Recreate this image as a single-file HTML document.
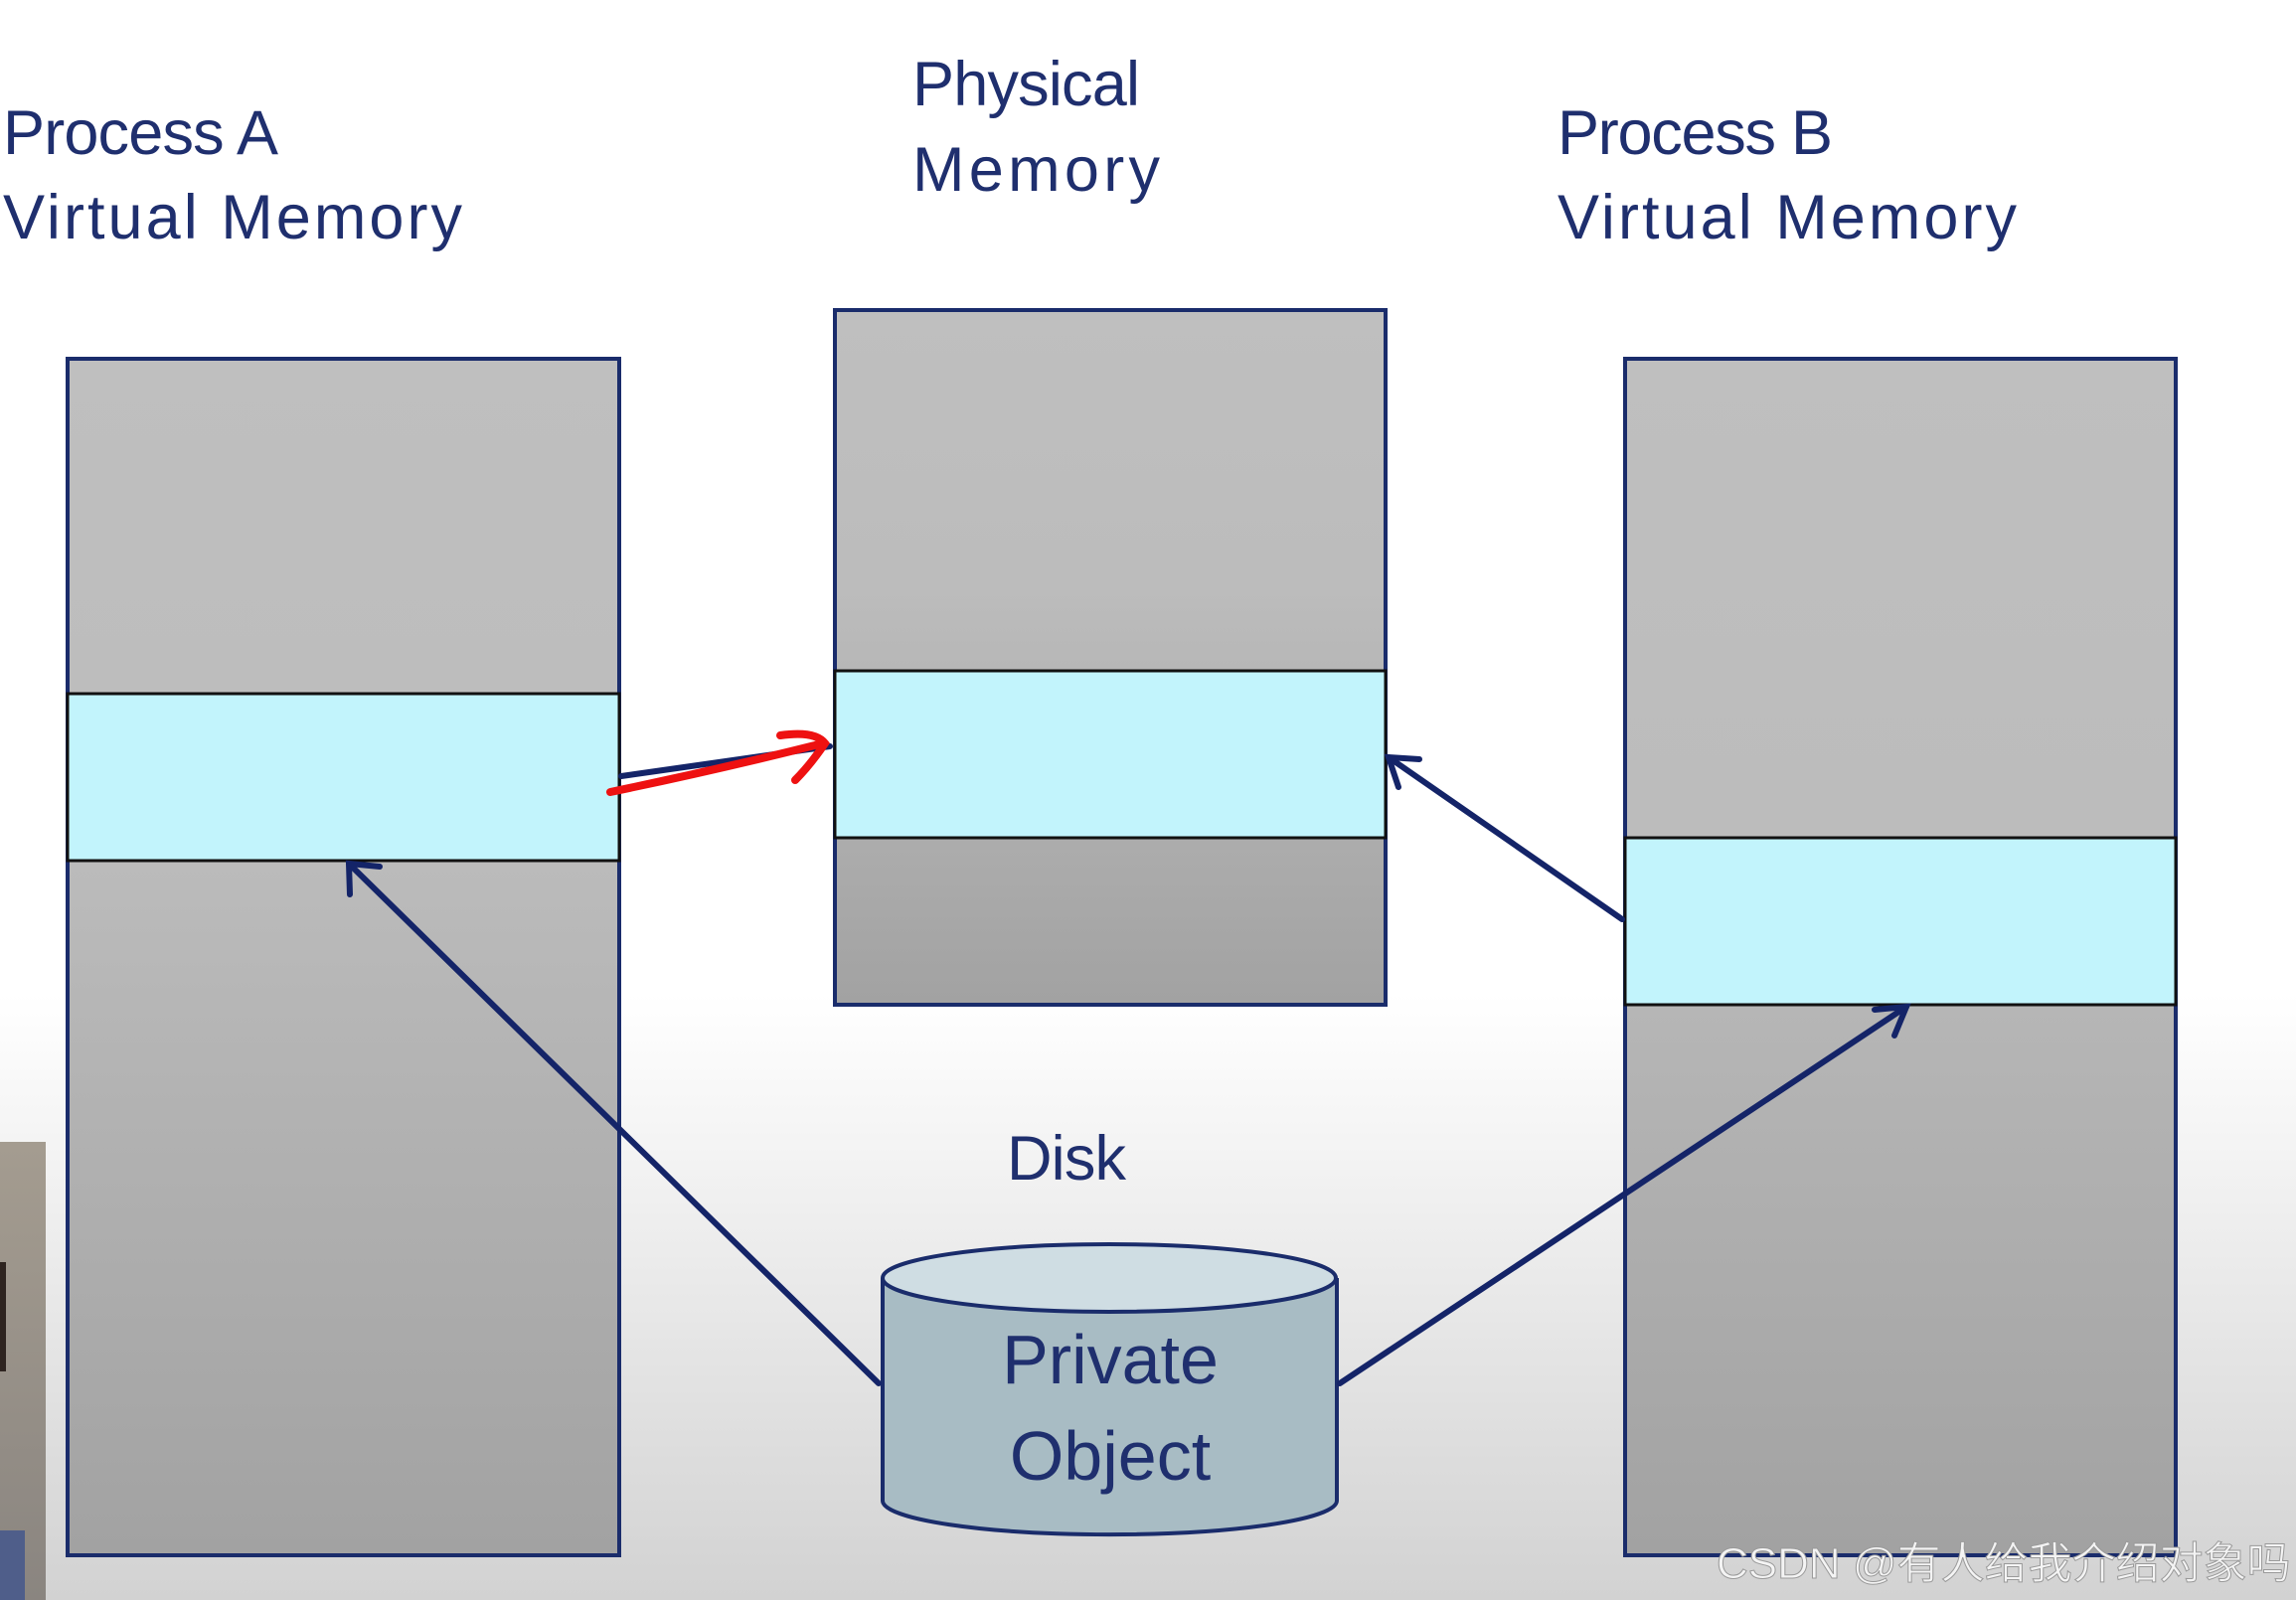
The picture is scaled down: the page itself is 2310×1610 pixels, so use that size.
<!DOCTYPE html>
<html><head><meta charset="utf-8"><style>
html,body{margin:0;padding:0;}
body{width:2310px;height:1610px;overflow:hidden;background:linear-gradient(#fff 0px,#fff 1000px,#d2d2d2 1610px);}
</style></head><body>
<svg width="2310" height="1610" xmlns="http://www.w3.org/2000/svg" style="position:absolute;left:0;top:0">
<defs>
<linearGradient id="g" x1="0" y1="0" x2="0" y2="1"><stop offset="0" stop-color="#bfbfbf"/><stop offset="0.4" stop-color="#bcbcbc"/><stop offset="1" stop-color="#a2a2a2"/></linearGradient>
<linearGradient id="w" x1="0" y1="0" x2="0" y2="1"><stop offset="0" stop-color="#a49c90"/><stop offset="1" stop-color="#8a8580"/></linearGradient>
</defs>
<rect x="0" y="1149" width="46" height="461" fill="url(#w)"/>
<rect x="0" y="1270" width="6" height="110" fill="#2e2420"/>
<rect x="0" y="1540" width="25" height="70" fill="#4f5e8a"/>
<g font-family="Liberation Sans, sans-serif" font-size="63" fill="#1f2f6e" lengthAdjust="spacingAndGlyphs">
<text x="3" y="155" textLength="277">Process A</text><text x="3" y="240" textLength="462">Virtual Memory</text>
<text x="918" y="106" textLength="229">Physical</text><text x="918" y="192" textLength="249">Memory</text>
<text x="1567" y="155" textLength="277">Process B</text><text x="1567" y="240" textLength="462">Virtual Memory</text>
<text x="1013" y="1187" textLength="120">Disk</text>
</g>
<rect x="68" y="361" width="555" height="1204" fill="url(#g)" stroke="#1a2c6b" stroke-width="4"/>
<rect x="68" y="698" width="555" height="168" fill="#c2f4fc" stroke="#111" stroke-width="3"/>
<rect x="840" y="312" width="554" height="699" fill="url(#g)" stroke="#1a2c6b" stroke-width="4"/>
<rect x="840" y="675" width="554" height="168" fill="#c2f4fc" stroke="#111" stroke-width="3"/>
<rect x="1635" y="361" width="554" height="1204" fill="url(#g)" stroke="#1a2c6b" stroke-width="4"/>
<rect x="1635" y="843" width="554" height="168" fill="#c2f4fc" stroke="#111" stroke-width="3"/>
<path d="M888 1286 V1510 A228 34 0 0 0 1345 1510 V1286" fill="#a8bcc4" stroke="#1a2c6b" stroke-width="4"/>
<ellipse cx="1116" cy="1286" rx="228" ry="34" fill="#cfdde3" stroke="#1a2c6b" stroke-width="4"/>
<g font-family="Liberation Sans, sans-serif" font-size="70" fill="#1f2f6e" text-anchor="middle">
<text x="1117" y="1392">Private</text><text x="1117" y="1489">Object</text>
</g>
<g stroke="#142468" stroke-width="6" fill="none" stroke-linecap="round">
<line x1="884" y1="1392" x2="351" y2="869"/><polyline points="352,900 351,869 382,872"/>
<line x1="1348" y1="1392" x2="1918" y2="1013"/><polyline points="1886,1016 1918,1013 1906,1042"/>
<line x1="1632" y1="925" x2="1397" y2="762"/><polyline points="1407,792 1397,762 1428,764"/>
<line x1="625" y1="781" x2="835" y2="751"/>
</g>
<g stroke="#ee1111" stroke-width="8" fill="none" stroke-linecap="round">
<path d="M614 797 Q720 775 828 748"/><path d="M785 740 Q820 735 830 748 Q815 770 800 785"/>
</g>
<text x="1727" y="1588" font-family="Liberation Sans, 'Noto Sans CJK SC', sans-serif" font-size="44" fill="#f4f4f4" stroke="#9a9a9a" stroke-width="1">CSDN @有人给我介绍对象吗</text>
</svg>
</body></html>
